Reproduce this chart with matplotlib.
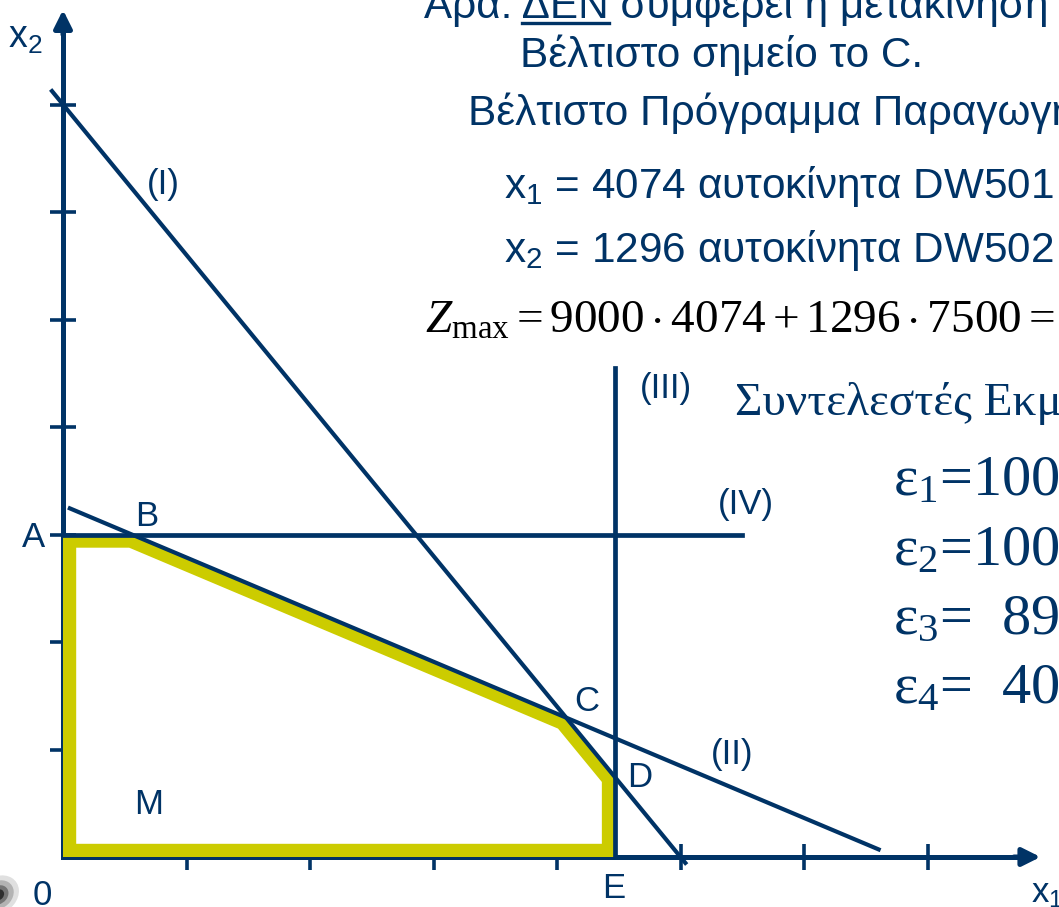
import numpy as np
import matplotlib.pyplot as plt
from matplotlib.patches import Polygon, Ellipse

plt.rcParams['font.family'] = ['Liberation Sans', 'DejaVu Sans']
plt.rcParams['mathtext.fontset'] = 'custom'
plt.rcParams['mathtext.rm'] = 'Liberation Serif'
plt.rcParams['mathtext.it'] = 'Liberation Serif:italic'

NAVY = '#003366'
YELLOW = '#CCCC00'

# constraint lines (units: cars)
c1 = (7, 5, 35000)          # (I)   7 x1 + 5 x2 = 35000
c2_icpt = (6750, 3270)      # (II)  x1 / 6750 + x2 / 3270 = 1
c3_x1 = 4470                # (III) x1 = 4470
c4_x2 = 3000                # (IV)  x2 = 3000

x_opt = [4074, 1296]
profit = [9000, 7500]
eff_labels = ['100', '100', '  89', '  40']
ticks = np.arange(1000, 8000, 1000)

# pixel scale of the drawing
sx, sy = 0.1235, 0.1075
ox, oy = 63, 857
W, H = 1059, 907


def line1(x):
    return (c1[2] - c1[0] * x) / c1[1]


def line2(x):
    return c2_icpt[1] * (1 - x / c2_icpt[0])


def at(xp, yp):
    return xp / W, 1 - yp / H


fig = plt.figure(figsize=(W / 100, H / 100), dpi=100)
ax = fig.add_axes([0, 0, 1, 1])
ax.set_xlim(-ox / sx, (W - ox) / sx)
ax.set_ylim((oy - H) / sy, oy / sy)

for s in ['top', 'right']:
    ax.spines[s].set_visible(False)
for s in ['left', 'bottom']:
    ax.spines[s].set_position(('data', 0))
    ax.spines[s].set_linewidth(3.6)
    ax.spines[s].set_color(NAVY)
ax.spines['bottom'].set_bounds(0, 7800)
ax.spines['left'].set_bounds(0, 7750)
ax.set_xticks(ticks)
ax.set_yticks(ticks)
ax.tick_params(direction='inout', length=19, width=2.6, color=NAVY,
               labelbottom=False, labelleft=False)

# arrow heads
ax.annotate('', xy=(7915, 0), xytext=(7700, 0),
            arrowprops=dict(arrowstyle='-|>', mutation_scale=27, lw=3.6,
                            color=NAVY, shrinkA=0, shrinkB=0))
ax.annotate('', xy=(0, 7880), xytext=(0, 7650),
            arrowprops=dict(arrowstyle='-|>', mutation_scale=27, lw=3.6,
                            color=NAVY, shrinkA=0, shrinkB=0))

# corner points of the feasible region
B = (c2_icpt[0] * (1 - c4_x2 / c2_icpt[1]), c4_x2)
D = (c3_x1, line1(c3_x1))
verts = [(0, 0), (0, c4_x2), B, tuple(x_opt), D, (c3_x1, 0)]

clip = Polygon(verts, closed=True, transform=ax.transData)
region = Polygon(verts, closed=True, fill=False, edgecolor=YELLOW,
                 lw=19, joinstyle='miter', zorder=2.6)
ax.add_patch(region)
region.set_clip_path(clip)

# constraint lines
xa = np.array([-100, 5050])
ax.plot(xa, line1(xa), color=NAVY, lw=3, zorder=3, solid_capstyle='butt')
xb = np.array([40, 6620])
ax.plot(xb, line2(xb), color=NAVY, lw=3, zorder=3, solid_capstyle='butt')
ax.plot([c3_x1, c3_x1], [0, 4550], color=NAVY, lw=3.4, zorder=3)
ax.plot([0, 5500], [c4_x2, c4_x2], color=NAVY, lw=3.4, zorder=3)

# dark corner blob
for r, a in [(24, 0.12), (18, 0.2), (12, 0.35), (7, 0.6)]:
    ax.add_patch(Ellipse(((-2 - ox) / sx, (oy - 895) / sy), 2 * r / sx,
                         1.4 * r / sy, angle=55, color='black', alpha=a,
                         lw=0, zorder=4))

# point and line labels
lab = dict(fontsize=25, color=NAVY, ha='left', va='baseline')
for txt, xp, yp in [('A', 22, 547), ('B', 135, 526), ('C', 574, 711),
                    ('D', 627, 787), ('E', 602, 898), ('M', 134, 814),
                    ('0', 33, 905), ('(I)', 147, 194), ('(II)', 711, 764),
                    ('(III)', 640, 398), ('(IV)', 718, 514)]:
    fig.text(*at(xp, yp), txt, **lab)
fig.text(*at(8, 48), r'$\mathregular{x_2}$', fontsize=27, color=NAVY)
fig.text(*at(1031, 902), r'$\mathregular{x_1}$', fontsize=25, color=NAVY)

# text block
big = dict(fontsize=30.4, color=NAVY, ha='left', va='baseline')
r = fig.canvas.get_renderer()
head = 'Άρα: ΔΕΝ συμφέρει η μετακίνηση του σημείου'
fig.text(*at(424, 18), head, **big)
w_all = fig.text(0, 0, 'Άρα: ΔΕΝ', **big)
w_dn = fig.text(0, 0, 'ΔΕΝ', **big)
x_end = 424 + w_all.get_window_extent(r).width
x_beg = x_end - w_dn.get_window_extent(r).width
w_all.remove()
w_dn.remove()
fig.add_artist(plt.Line2D([x_beg / W, x_end / W], [1 - 22.5 / H] * 2,
                          color=NAVY, lw=2.4))

fig.text(*at(520, 67), 'Βέλτιστο σημείο το C.', **big)
fig.text(*at(468, 125), 'Βέλτιστο Πρόγραμμα Παραγωγής:', **big)
fig.text(*at(504, 198),
         r'$\mathregular{x_1}$ = %d αυτοκίνητα DW501' % x_opt[0], **big)
fig.text(*at(504, 262),
         r'$\mathregular{x_2}$ = %d αυτοκίνητα DW502' % x_opt[1], **big)

z = profit[0] * x_opt[0] + profit[1] * x_opt[1]
fig.text(*at(425, 333),
         r'$Z_{\mathrm{max}} = %d \cdot %d + %d \cdot %d = %d$'
         % (profit[0], x_opt[0], x_opt[1], profit[1], z),
         fontsize=34, color='black', ha='left', va='baseline')

serif = ['Liberation Serif', 'DejaVu Serif']
fig.text(*at(735, 415), 'Συντελεστές Εκμετάλλευσης', fontsize=34,
         color=NAVY, family=serif, ha='left', va='baseline')
for i, (e, yp) in enumerate(zip(eff_labels, [495, 565, 634, 703])):
    fig.text(*at(893, yp), r'$\mathregular{ε_%d}$=%s%%' % (i + 1, e),
             fontsize=42, color=NAVY, family=serif, ha='left',
             va='baseline')

fig.savefig('out.png', dpi=100, facecolor='white')
